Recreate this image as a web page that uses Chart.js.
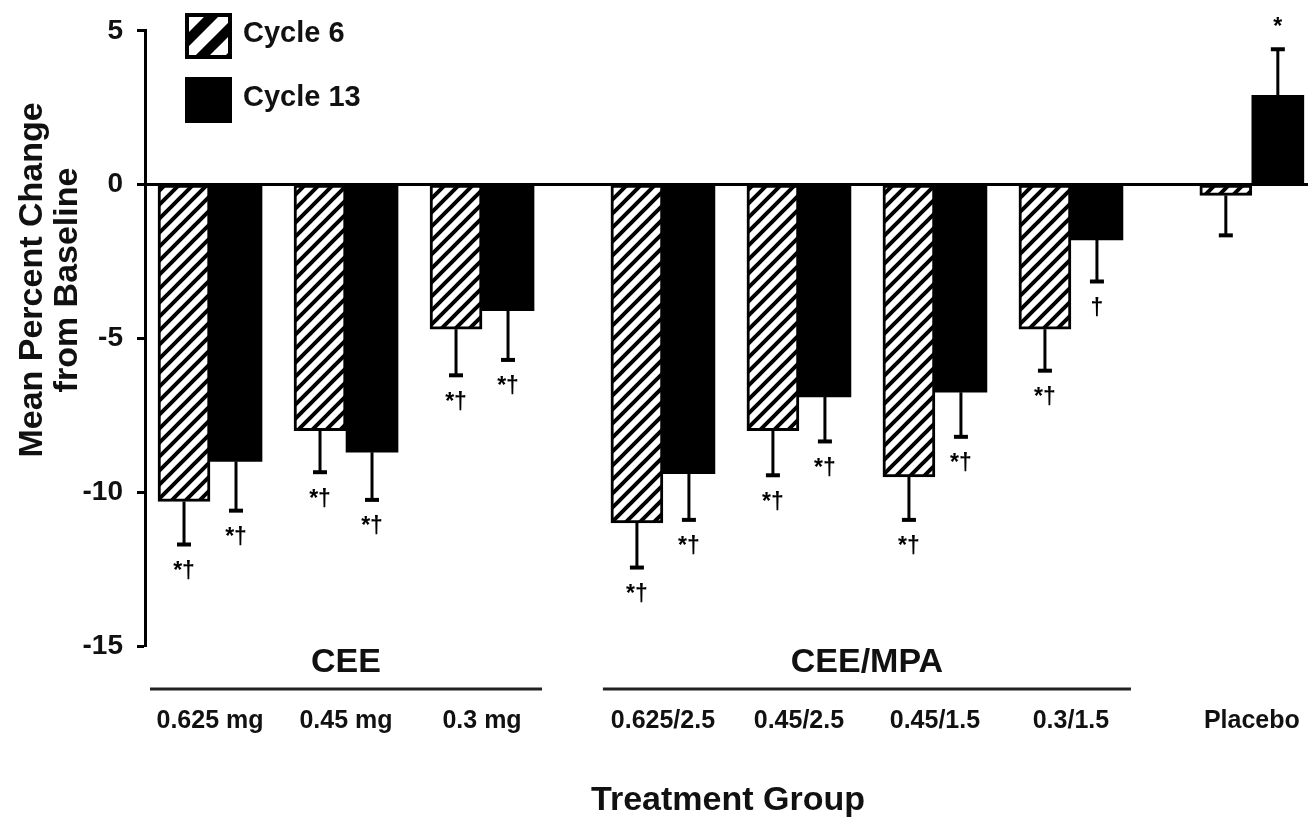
<!DOCTYPE html>
<html>
<head>
<meta charset="utf-8">
<title>Mean Percent Change from Baseline by Treatment Group</title>
<script src="https://cdn.jsdelivr.net/npm/chart.js@4.4.1/dist/chart.umd.min.js"></script>
<style>
  html, body { margin: 0; padding: 0; background: #fff; }
  #wrap { position: relative; width: 1308px; height: 817px; }
</style>
</head>
<body>
<div id="wrap"><canvas id="chart"></canvas></div>
<script>
// ---- data ----
const treatmentGroups = ['CEE', 'CEE/MPA', ''];
const doses = ['0.625 mg', '0.45 mg', '0.3 mg', '0.625/2.5', '0.45/2.5', '0.45/1.5', '0.3/1.5', 'Placebo'];
const doseGroup = [0, 0, 0, 1, 1, 1, 1, 2];
const seriesNames = ['Cycle 6', 'Cycle 13'];
const cycle6 = [-10.3, -8.0, -4.7, -11.0, -8.0, -9.5, -4.7, -0.35];
const cycle6Err = [1.4, 1.35, 1.5, 1.45, 1.45, 1.4, 1.35, 1.3];
const cycle13 = [-9.0, -8.7, -4.1, -9.4, -6.9, -6.75, -1.8, 2.9];
const cycle13Err = [1.6, 1.55, 1.6, 1.5, 1.45, 1.45, 1.35, 1.5];
const cycle6Marks = ['*†', '*†', '*†', '*†', '*†', '*†', '*†', ''];
const cycle13Marks = ['*†', '*†', '*†', '*†', '*†', '*†', '†', '*'];
const yTicks = [5, 0, -5, -10, -15];
const yTitle = ['Mean Percent Change', 'from Baseline'];
const xTitle = 'Treatment Group';

// ---- layout ----
const FONT = '"Liberation Sans", Arial, Helvetica, sans-serif';
const GROUP_GAP = 0.33;          // extra space between treatment groups, in slot units
const slot = doses.map((d, i) => i + doseGroup[i] * GROUP_GAP);

// diagonal "/" hatch fill
function hatch(size, width) {
  const c = document.createElement('canvas');
  c.width = c.height = size;
  const g = c.getContext('2d');
  g.fillStyle = '#fff';
  g.fillRect(0, 0, size, size);
  g.strokeStyle = '#000';
  g.lineWidth = width;
  g.beginPath();
  for (let k = -1; k <= 1; k++) {
    g.moveTo(k * size - size, 2 * size);
    g.lineTo(k * size + 2 * size, -size);
  }
  g.stroke();
  return g.createPattern(c, 'repeat');
}
const barHatch = hatch(14, 4);
const legendHatch = hatch(30, 10);

const toPoints = vals => vals.map((v, i) => ({ x: slot[i], y: v }));

const decorations = {
  id: 'decorations',
  afterDatasetsDraw(chart) {
    const { ctx, chartArea: a, scales: { y } } = chart;
    ctx.save();
    // error bars (one-sided, away from zero) and significance marks
    chart.data.datasets.forEach((ds, di) => {
      const meta = chart.getDatasetMeta(di);
      meta.data.forEach((bar, i) => {
        const v = ds.data[i].y;
        const e = ds.errors[i];
        const end = v < 0 ? v - e : v + e;
        const yb = y.getPixelForValue(v);
        const ye = y.getPixelForValue(end);
        ctx.strokeStyle = '#000';
        ctx.lineWidth = 3;
        ctx.beginPath();
        ctx.moveTo(bar.x, yb);
        ctx.lineTo(bar.x, ye);
        ctx.stroke();
        ctx.lineWidth = 4;
        ctx.beginPath();
        ctx.moveTo(bar.x - 7, ye);
        ctx.lineTo(bar.x + 7, ye);
        ctx.stroke();
        const m = ds.marks[i];
        if (m) {
          ctx.fillStyle = '#000';
          ctx.font = `bold 23px ${FONT}`;
          ctx.textAlign = 'center';
          ctx.textBaseline = 'middle';
          ctx.fillText(m, bar.x, v < 0 ? ye + 27 : ye - 22);
        }
      });
    });
    // zero reference line
    const y0 = y.getPixelForValue(0);
    ctx.strokeStyle = '#000';
    ctx.lineWidth = 3;
    ctx.beginPath();
    ctx.moveTo(a.left, y0);
    ctx.lineTo(a.right, y0);
    ctx.stroke();
    ctx.restore();
  },
  afterDraw(chart) {
    const { ctx, scales: { x } } = chart;
    ctx.save();
    ctx.fillStyle = '#111';
    ctx.strokeStyle = '#000';

    // legend
    const boxes = [{ y: 13, fill: legendHatch }, { y: 77, fill: '#000' }];
    boxes.forEach((b, i) => {
      ctx.save();
      ctx.translate(185, b.y);
      ctx.fillStyle = b.fill;
      ctx.fillRect(0, 0, 47, 46);
      ctx.lineWidth = 4;
      ctx.strokeStyle = '#000';
      ctx.strokeRect(2, 2, 43, 42);
      ctx.restore();
      ctx.fillStyle = '#111';
      ctx.font = `bold 29px ${FONT}`;
      ctx.textAlign = 'left';
      ctx.textBaseline = 'middle';
      ctx.fillText(chart.data.datasets[i].label, 243, b.y + 21);
    });

    // dose labels under each bar pair
    ctx.font = `bold 25px ${FONT}`;
    ctx.textAlign = 'center';
    ctx.textBaseline = 'middle';
    doses.forEach((d, i) => ctx.fillText(d, x.getPixelForValue(slot[i]), 721));

    // treatment group headings with underline rules
    treatmentGroups.forEach((g, gi) => {
      if (!g) return;
      const idx = doses.map((d, i) => i).filter(i => doseGroup[i] === gi);
      const x1 = x.getPixelForValue(slot[idx[0]]);
      const x2 = x.getPixelForValue(slot[idx[idx.length - 1]]);
      ctx.lineWidth = 3;
      ctx.strokeStyle = '#222';
      ctx.beginPath();
      ctx.moveTo(x1 - 60, 689);
      ctx.lineTo(x2 + 60, 689);
      ctx.stroke();
      ctx.font = `bold 34px ${FONT}`;
      ctx.textBaseline = 'alphabetic';
      ctx.fillText(g, (x1 + x2) / 2, 672);
    });

    // x axis title
    ctx.font = `bold 34px ${FONT}`;
    ctx.textBaseline = 'alphabetic';
    ctx.fillText(xTitle, 728, 810);

    // y axis title, two rotated lines
    ctx.translate(42, 280);
    ctx.rotate(-Math.PI / 2);
    ctx.textAlign = 'center';
    yTitle.forEach((line, i) => ctx.fillText(line, 0, i * 35));
    ctx.restore();
  }
};

new Chart(document.getElementById('chart'), {
  type: 'bar',
  data: {
    datasets: [
      {
        label: seriesNames[0],
        data: toPoints(cycle6),
        errors: cycle6Err,
        marks: cycle6Marks,
        backgroundColor: barHatch,
        borderColor: '#000',
        borderWidth: 3,
        borderSkipped: false,
        barThickness: 52
      },
      {
        label: seriesNames[1],
        data: toPoints(cycle13),
        errors: cycle13Err,
        marks: cycle13Marks,
        backgroundColor: '#000',
        borderWidth: 0,
        barThickness: 52
      }
    ]
  },
  options: {
    responsive: true,
    maintainAspectRatio: false,
    animation: false,
    devicePixelRatio: 1,
    layout: { padding: { top: 30, bottom: 171, left: 0, right: 0 } },
    plugins: { legend: { display: false }, tooltip: { enabled: false } },
    scales: {
      x: {
        type: 'linear',
        display: false,
        offset: false,
        min: -0.478,
        max: 8.073
      },
      y: {
        min: -15,
        max: 5,
        afterFit: s => { s.width = 145; },
        afterBuildTicks: s => { s.ticks = yTicks.map(v => ({ value: v })); },
        ticks: {
          color: '#111',
          padding: 14,
          font: { family: FONT, size: 28, weight: 'bold' }
        },
        grid: {
          drawOnChartArea: false,
          drawTicks: true,
          tickLength: 8,
          tickWidth: 3,
          tickColor: '#000'
        },
        border: { display: true, color: '#000', width: 3 }
      }
    }
  },
  plugins: [decorations]
});
</script>
</body>
</html>
